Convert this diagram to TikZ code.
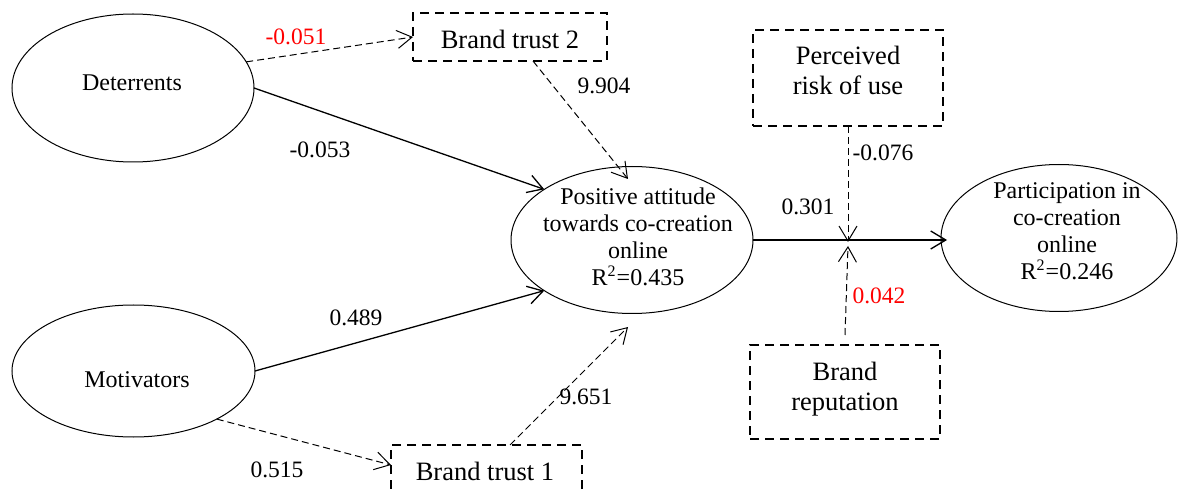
\documentclass[tikz,border=0pt]{standalone}
\usepackage{fontspec}
\setmainfont{Liberation Serif}
\newfontfamily\lserif{Liberation Serif}
\usetikzlibrary{shapes.geometric,arrows.meta,calc}
\begin{document}
\begin{tikzpicture}[x=0.5pt,y=-0.5pt,
  ell/.style={draw,ellipse,inner sep=0pt,outer sep=0pt,line width=0.5pt},
  dbox/.style={draw,rectangle,inner sep=0pt,outer sep=0pt,line width=1pt,dash pattern=on 4.5pt off 3pt},
  etxt/.style={align=center,inner sep=0pt,font=\lserif\fontsize{12}{13.5}\selectfont},
  btxt/.style={align=center,inner sep=0pt,font=\lserif\fontsize{13.25}{15}\selectfont},
  num/.style={inner sep=0pt,font=\lserif\fontsize{11.75}{14}\selectfont},
  sol/.style={line width=0.65pt,-{Straight Barb[length=7.5pt,width=9pt]}},
  dsh/.style={line width=0.5pt,dash pattern=on 3.5pt off 2pt,-{Straight Barb[length=7.5pt,width=9pt]}},
]
\useasboundingbox (0,0) rectangle (1180,492);

% ellipses
\node[ell,minimum width=121pt,minimum height=74pt] (det) at (133,88) {};
\node[etxt] (dett) at (132,82.5) {Deterrents};
\node[ell,minimum width=121.5pt,minimum height=66pt] (mot) at (133.5,371) {};
\node[etxt] (mott) at (137,379.5) {Motivators};
\node[ell,minimum width=121pt,minimum height=73.5pt] (pos) at (632,240) {};
\node[etxt] (post) at (638,236.5) {Positive attitude\\towards co-creation\\online\\R\textsuperscript{2}=0.435};
\node[ell,minimum width=118pt,minimum height=73.5pt] (par) at (1059,238) {};
\node[etxt] (part) at (1067,231) {Participation in\\co-creation\\online\\R\textsuperscript{2}=0.246};

% dashed boxes
\node[dbox,minimum width=97pt,minimum height=24pt] (bt2) at (510,37) {};
\node[btxt] (bt2t) at (510,39) {Brand trust 2};
\node[dbox,minimum width=95.5pt,minimum height=24pt] (bt1) at (486.5,469) {};
\node[btxt] (bt1t) at (485,471) {Brand trust 1};
\node[dbox,minimum width=95pt,minimum height=48pt] (prb) at (848,78) {};
\node[btxt] (prbt) at (848,70.5) {Perceived\\risk of use};
\node[dbox,minimum width=95pt,minimum height=47pt] (brep) at (845,392) {};
\node[btxt] (brept) at (845,389) {Brand\\reputation};

\coordinate (m) at (pos.east -| prb.south);

% connectors
\draw[dsh] (det.13) -- (bt2.west);
\draw[sol] (det.east) -- (pos.150);
\draw[dsh] ($(bt2.south)+(23,0)$) -- ($(pos.north)+(-4,12.5)$);
\draw[sol] (mot.east) -- (pos.210);
\draw[dsh] (mot.-30) -- ($(bt1.west)+(0,-4)$);
\draw[dsh] ($(bt1.north)+(23.5,0)$) -- ($(pos.south)+(-4,13.5)$);
\draw[sol] (pos.east) -- ($(pos.east -| par.west)+(6,0)$);
\draw[dsh] (prb.south) -- ($(m)+(0,2)$);
\draw[dsh] ($(brep.north)+(0,-10)$) -- ($(m)+(0,6)$);

% labels
\node[num,text=red] (l1) at (296,37) {-0.051};
\node[num] (l2) at (320,150) {-0.053};
\node[num] (l3) at (604,86) {9.904};
\node[num] (l4) at (356,318) {0.489};
\node[num] (l5) at (277,470) {0.515};
\node[num] (l6) at (586,397) {9.651};
\node[num] (l7) at (808,207) {0.301};
\node[num] (l8) at (883,153) {-0.076};
\node[num,text=red] (l9) at (879,296) {0.042};
\end{tikzpicture}
\end{document}
